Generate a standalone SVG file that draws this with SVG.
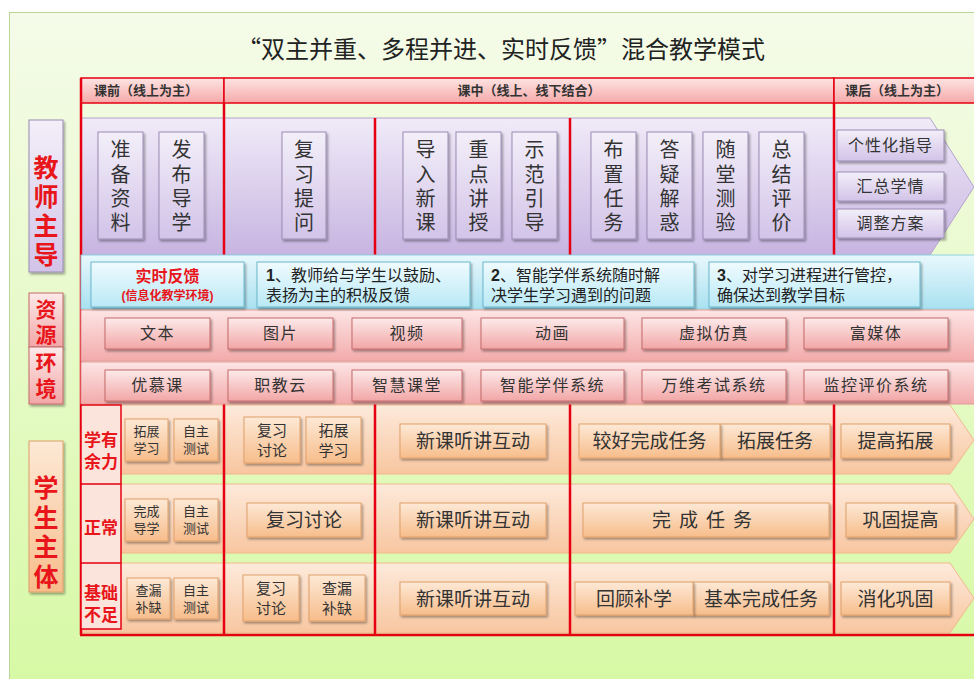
<svg xmlns="http://www.w3.org/2000/svg" width="974" height="679" viewBox="0 0 974 679">
<defs>
<linearGradient id="gBg" x1="0" y1="0" x2="0" y2="1"><stop offset="0" stop-color="#f5fbe9"/><stop offset="1" stop-color="#d7f9a5"/></linearGradient>
<linearGradient id="gHead" x1="0" y1="0" x2="0" y2="1"><stop offset="0" stop-color="#fde4e3"/><stop offset="1" stop-color="#f5a9a8"/></linearGradient>
<linearGradient id="gPur" x1="0" y1="0" x2="0" y2="1"><stop offset="0" stop-color="#f0ebf8"/><stop offset="1" stop-color="#c7b4e1"/></linearGradient>
<linearGradient id="gPurBox" x1="0" y1="0" x2="0" y2="1"><stop offset="0" stop-color="#f3eff9"/><stop offset="1" stop-color="#d2c3e8"/></linearGradient>
<linearGradient id="gCyan" x1="0" y1="0" x2="0" y2="1"><stop offset="0" stop-color="#e8f8fc"/><stop offset="1" stop-color="#a9e1f1"/></linearGradient>
<linearGradient id="gCyanBox" x1="0" y1="0" x2="0" y2="1"><stop offset="0" stop-color="#f0fbfe"/><stop offset="1" stop-color="#b9e9f6"/></linearGradient>
<linearGradient id="gPink" x1="0" y1="0" x2="0" y2="1"><stop offset="0" stop-color="#fde5e5"/><stop offset="1" stop-color="#f3aaaa"/></linearGradient>
<linearGradient id="gPinkBox" x1="0" y1="0" x2="0" y2="1"><stop offset="0" stop-color="#fdeaea"/><stop offset="1" stop-color="#f2a6a6"/></linearGradient>
<linearGradient id="gOr" x1="0" y1="0" x2="0" y2="1"><stop offset="0" stop-color="#fdeadb"/><stop offset="1" stop-color="#f8c6a0"/></linearGradient>
<linearGradient id="gOrBox" x1="0" y1="0" x2="0" y2="1"><stop offset="0" stop-color="#fde9d6"/><stop offset="1" stop-color="#f7bd8b"/></linearGradient>
<filter id="sh" x="-10%" y="-10%" width="130%" height="140%"><feDropShadow dx="1.5" dy="2" stdDeviation="1.2" flood-color="#000" flood-opacity="0.35"/></filter>
</defs>
<style>
text{font-family:"Liberation Sans","Noto Sans CJK SC",sans-serif;}
.title{font-size:24px;fill:#222;font-family:"Noto Sans CJK SC",sans-serif;}
.head{font-size:13px;font-weight:bold;fill:#333;}
.vt{font-size:20px;fill:#333;text-anchor:middle;}
.rt{font-size:16px;fill:#333;text-anchor:middle;letter-spacing:1px;}
.fb{font-size:16px;fill:#222;}
.res{font-size:16px;fill:#333;text-anchor:middle;letter-spacing:1.5px;}
.sm{font-size:13px;fill:#333;text-anchor:middle;}
.md{font-size:15px;fill:#333;text-anchor:middle;}
.lg{font-size:19px;fill:#333;text-anchor:middle;}
.lbl{font-size:25px;font-weight:bold;fill:#e8161b;text-anchor:middle;}
.lbl2{font-size:21px;font-weight:bold;fill:#e8161b;text-anchor:middle;}
.slbl{font-size:17px;font-weight:bold;fill:#e8161b;text-anchor:middle;}
.pbox{fill:url(#gPurBox);stroke:#9b8cb3;stroke-width:1;filter:url(#sh);}
.cbox{fill:url(#gCyanBox);stroke:#6bb7cc;stroke-width:1;filter:url(#sh);}
.kbox{fill:url(#gPinkBox);stroke:#c46a6a;stroke-width:1;filter:url(#sh);}
.obox{fill:url(#gOrBox);stroke:#e0a06a;stroke-width:1;filter:url(#sh);}
.red{stroke:#e60012;stroke-width:2.5;fill:none;}
</style>

<rect x="0" y="0" width="974" height="679" fill="#ffffff"/>
<rect x="9.5" y="12.5" width="970" height="670" fill="url(#gBg)" stroke="#b9d69a" stroke-width="1"/>
<text class="title" x="501" y="58" text-anchor="middle">“双主并重、多程并进、实时反馈”混合教学模式</text>

<g id="header">
<rect x="81" y="78" width="143" height="25" fill="url(#gHead)" stroke="#e60012" stroke-width="1.5"/>
<rect x="224" y="78" width="610" height="25" fill="url(#gHead)" stroke="#e60012" stroke-width="1.5"/>
<rect x="834" y="78" width="145" height="25" fill="url(#gHead)" stroke="#e60012" stroke-width="1.5"/>
<text class="head" x="94" y="95">课前（线上为主）</text>
<text class="head" x="529" y="95" text-anchor="middle">课中（线上、线下结合）</text>
<text class="head" x="845" y="95">课后（线上为主）</text>
</g>

<g id="teacher-band">
<path d="M81,118 H930 L974,187 L930,255 H81 Z" fill="url(#gPur)" stroke="#b4a3cf" stroke-width="1"/>
</g>

<g id="student-bands">
<path d="M81,405 H950 L974,440 L950,474 H81 Z" fill="url(#gOr)" stroke="#f0b88c" stroke-width="1"/>
<path d="M81,484 H950 L974,519 L950,553 H81 Z" fill="url(#gOr)" stroke="#f0b88c" stroke-width="1"/>
<path d="M81,563 H950 L974,598 L950,633 H81 Z" fill="url(#gOr)" stroke="#f0b88c" stroke-width="1"/>
</g>

<g id="connectors">
<line class="red" x1="81" y1="78" x2="81" y2="635"/>
<line class="red" x1="224" y1="103" x2="224" y2="255"/>
<line class="red" x1="375" y1="118" x2="375" y2="255"/>
<line class="red" x1="570" y1="118" x2="570" y2="255"/>
<line class="red" x1="834" y1="103" x2="834" y2="255"/>
<line class="red" x1="224" y1="404" x2="224" y2="635"/>
<line class="red" x1="375" y1="404" x2="375" y2="635"/>
<line class="red" x1="570" y1="404" x2="570" y2="635"/>
<line class="red" x1="834" y1="404" x2="834" y2="635"/>
<line class="red" x1="80" y1="635" x2="974" y2="635"/>
</g>

<g id="feedback-band">
<rect x="81" y="255" width="898" height="54" fill="url(#gCyan)" stroke="#8fcfe0" stroke-width="1"/>
</g>
<g id="resource-bands">
<rect x="81" y="310" width="898" height="51" fill="url(#gPink)" stroke="#e39a9a" stroke-width="1"/>
<rect x="81" y="362" width="898" height="42" fill="url(#gPink)" stroke="#e39a9a" stroke-width="1"/>
</g>

<g id="label-teacher">
<rect x="29" y="120" width="34" height="152" fill="url(#gPurBox)" stroke="#9b8cb3" filter="url(#sh)"/>
<text class="lbl" x="46" y="177">教</text>
<text class="lbl" x="46" y="206">师</text>
<text class="lbl" x="46" y="235">主</text>
<text class="lbl" x="46" y="264">导</text>
</g>
<g id="label-resource">
<rect x="29" y="293" width="34" height="54" fill="url(#gPinkBox)" stroke="#c46a6a" filter="url(#sh)"/>
<rect x="29" y="347" width="34" height="57" fill="url(#gPinkBox)" stroke="#c46a6a" filter="url(#sh)"/>
<text class="lbl2" x="46" y="317">资</text>
<text class="lbl2" x="46" y="342">源</text>
<text class="lbl2" x="46" y="370">环</text>
<text class="lbl2" x="46" y="396">境</text>
</g>
<g id="label-student">
<rect x="29" y="441" width="34" height="151" fill="url(#gOrBox)" stroke="#e0a06a" filter="url(#sh)"/>
<text class="lbl" x="46" y="497">学</text>
<text class="lbl" x="46" y="527">生</text>
<text class="lbl" x="46" y="556">主</text>
<text class="lbl" x="46" y="586">体</text>
</g>

<g id="teacher-prep">
<rect class="pbox" x="98" y="132" width="45" height="107"/>
<text class="vt" x="120.5" y="157">准</text><text class="vt" x="120.5" y="182">备</text><text class="vt" x="120.5" y="206">资</text><text class="vt" x="120.5" y="230">料</text>
<rect class="pbox" x="159" y="132" width="45" height="107"/>
<text class="vt" x="181.5" y="157">发</text><text class="vt" x="181.5" y="182">布</text><text class="vt" x="181.5" y="206">导</text><text class="vt" x="181.5" y="230">学</text>
</g>
<g id="teacher-review">
<rect class="pbox" x="282" y="132" width="44" height="107"/>
<text class="vt" x="304" y="157">复</text><text class="vt" x="304" y="182">习</text><text class="vt" x="304" y="206">提</text><text class="vt" x="304" y="230">问</text>
</g>
<g id="teacher-teach">
<rect class="pbox" x="403" y="132" width="45" height="107"/>
<text class="vt" x="425.5" y="157">导</text><text class="vt" x="425.5" y="182">入</text><text class="vt" x="425.5" y="206">新</text><text class="vt" x="425.5" y="230">课</text>
<rect class="pbox" x="456" y="132" width="45" height="107"/>
<text class="vt" x="478.5" y="157">重</text><text class="vt" x="478.5" y="182">点</text><text class="vt" x="478.5" y="206">讲</text><text class="vt" x="478.5" y="230">授</text>
<rect class="pbox" x="512" y="132" width="45" height="107"/>
<text class="vt" x="534.5" y="157">示</text><text class="vt" x="534.5" y="182">范</text><text class="vt" x="534.5" y="206">引</text><text class="vt" x="534.5" y="230">导</text>
</g>
<g id="teacher-task">
<rect class="pbox" x="591" y="132" width="45" height="107"/>
<text class="vt" x="613.5" y="157">布</text><text class="vt" x="613.5" y="182">置</text><text class="vt" x="613.5" y="206">任</text><text class="vt" x="613.5" y="230">务</text>
<rect class="pbox" x="647" y="132" width="45" height="107"/>
<text class="vt" x="669.5" y="157">答</text><text class="vt" x="669.5" y="182">疑</text><text class="vt" x="669.5" y="206">解</text><text class="vt" x="669.5" y="230">惑</text>
<rect class="pbox" x="703" y="132" width="45" height="107"/>
<text class="vt" x="725.5" y="157">随</text><text class="vt" x="725.5" y="182">堂</text><text class="vt" x="725.5" y="206">测</text><text class="vt" x="725.5" y="230">验</text>
<rect class="pbox" x="759" y="132" width="45" height="107"/>
<text class="vt" x="781.5" y="157">总</text><text class="vt" x="781.5" y="182">结</text><text class="vt" x="781.5" y="206">评</text><text class="vt" x="781.5" y="230">价</text>
</g>
<g id="teacher-after">
<rect class="pbox" x="837" y="130" width="107" height="31"/>
<text class="rt" x="890.5" y="151">个性化指导</text>
<rect class="pbox" x="837" y="172" width="107" height="29"/>
<text class="rt" x="890.5" y="192">汇总学情</text>
<rect class="pbox" x="837" y="209" width="107" height="29"/>
<text class="rt" x="890.5" y="229">调整方案</text>
</g>

<g id="feedback">
<rect class="cbox" x="91" y="262" width="153" height="45"/>
<text x="167.5" y="282" text-anchor="middle" font-size="16" font-weight="bold" fill="#e8161b">实时反馈</text>
<text x="167.5" y="300" text-anchor="middle" font-size="12" font-weight="bold" fill="#e8161b">(信息化教学环境)</text>
<rect class="cbox" x="257" y="262" width="213" height="45"/>
<text class="fb" x="266" y="281"><tspan font-weight="bold">1</tspan>、教师给与学生以鼓励、</text>
<text class="fb" x="266" y="301">表扬为主的积极反馈</text>
<rect class="cbox" x="483" y="262" width="211" height="45"/>
<text class="fb" x="491" y="281"><tspan font-weight="bold">2</tspan>、智能学伴系统随时解</text>
<text class="fb" x="491" y="301">决学生学习遇到的问题</text>
<rect class="cbox" x="709" y="262" width="211" height="45"/>
<text class="fb" x="717" y="281"><tspan font-weight="bold">3</tspan>、对学习进程进行管控，</text>
<text class="fb" x="717" y="301">确保达到教学目标</text>
</g>

<g id="resources">
<rect class="kbox" x="105" y="318" width="105" height="31"/><text class="res" x="157.5" y="339">文本</text>
<rect class="kbox" x="228" y="318" width="105" height="31"/><text class="res" x="280.5" y="339">图片</text>
<rect class="kbox" x="352" y="318" width="110" height="31"/><text class="res" x="407" y="339">视频</text>
<rect class="kbox" x="481" y="318" width="143" height="31"/><text class="res" x="552.5" y="339">动画</text>
<rect class="kbox" x="642" y="318" width="144" height="31"/><text class="res" x="714" y="339">虚拟仿真</text>
<rect class="kbox" x="804" y="318" width="144" height="31"/><text class="res" x="876" y="339">富媒体</text>
<rect class="kbox" x="105" y="370" width="105" height="31"/><text class="res" x="157.5" y="391">优慕课</text>
<rect class="kbox" x="228" y="370" width="105" height="31"/><text class="res" x="280.5" y="391">职教云</text>
<rect class="kbox" x="352" y="370" width="110" height="31"/><text class="res" x="407" y="391">智慧课堂</text>
<rect class="kbox" x="481" y="370" width="143" height="31"/><text class="res" x="552.5" y="391">智能学伴系统</text>
<rect class="kbox" x="642" y="370" width="144" height="31"/><text class="res" x="714" y="391">万维考试系统</text>
<rect class="kbox" x="804" y="370" width="144" height="31"/><text class="res" x="876" y="391">监控评价系统</text>
</g>

<g id="student-levels">
<rect x="81" y="405" width="40" height="224" fill="#fbe4dc" stroke="#e60012" stroke-width="1.5"/>
<line x1="81" y1="484" x2="121" y2="484" stroke="#e60012" stroke-width="1.5"/>
<line x1="81" y1="563" x2="121" y2="563" stroke="#e60012" stroke-width="1.5"/>
<text class="slbl" x="101" y="446">学有</text>
<text class="slbl" x="101" y="468">余力</text>
<text class="slbl" x="101" y="534">正常</text>
<text class="slbl" x="101" y="599">基础</text>
<text class="slbl" x="101" y="621">不足</text>
</g>

<g id="student-pre">
<rect class="obox" x="125" y="419" width="43" height="42"/><text class="sm" x="146.5" y="436">拓展</text><text class="sm" x="146.5" y="453">学习</text>
<rect class="obox" x="174" y="419" width="44" height="42"/><text class="sm" x="196" y="436">自主</text><text class="sm" x="196" y="453">测试</text>
<rect class="obox" x="125" y="499" width="43" height="42"/><text class="sm" x="146.5" y="516">完成</text><text class="sm" x="146.5" y="533">导学</text>
<rect class="obox" x="174" y="499" width="44" height="42"/><text class="sm" x="196" y="516">自主</text><text class="sm" x="196" y="533">测试</text>
<rect class="obox" x="127" y="578" width="43" height="41"/><text class="sm" x="148.5" y="595">查漏</text><text class="sm" x="148.5" y="612">补缺</text>
<rect class="obox" x="174" y="578" width="44" height="41"/><text class="sm" x="196" y="595">自主</text><text class="sm" x="196" y="612">测试</text>
</g>

<g id="student-review">
<rect class="obox" x="244" y="417" width="56" height="46"/><text class="md" x="272" y="436">复习</text><text class="md" x="272" y="456">讨论</text>
<rect class="obox" x="306" y="417" width="55" height="46"/><text class="md" x="333.5" y="436">拓展</text><text class="md" x="333.5" y="456">学习</text>
<rect class="obox" x="247" y="503" width="114" height="34"/><text class="lg" x="304" y="527">复习讨论</text>
<rect class="obox" x="243" y="575" width="56" height="46"/><text class="md" x="271" y="594">复习</text><text class="md" x="271" y="614">讨论</text>
<rect class="obox" x="309" y="575" width="56" height="46"/><text class="md" x="337" y="594">查漏</text><text class="md" x="337" y="614">补缺</text>
</g>

<g id="student-new">
<rect class="obox" x="400" y="424" width="146" height="34"/><text class="lg" x="473" y="448">新课听讲互动</text>
<rect class="obox" x="400" y="503" width="146" height="34"/><text class="lg" x="473" y="527">新课听讲互动</text>
<rect class="obox" x="400" y="582" width="146" height="33"/><text class="lg" x="473" y="606">新课听讲互动</text>
</g>

<g id="student-task">
<rect class="obox" x="720" y="424" width="110" height="34"/><text class="lg" x="775" y="448">拓展任务</text>
<rect class="obox" x="579" y="424" width="141" height="34"/><text class="lg" x="649.5" y="448">较好完成任务</text>
<rect class="obox" x="583" y="503" width="246" height="34"/><text class="lg" x="706" y="527" letter-spacing="8">完成任务</text>
<rect class="obox" x="693" y="582" width="136" height="33"/><text class="lg" x="761" y="606">基本完成任务</text>
<rect class="obox" x="575" y="582" width="118" height="33"/><text class="lg" x="634" y="606">回顾补学</text>
</g>

<g id="student-after">
<rect class="obox" x="841" y="424" width="109" height="34"/><text class="lg" x="895.5" y="448">提高拓展</text>
<rect class="obox" x="846" y="503" width="109" height="34"/><text class="lg" x="900.5" y="527">巩固提高</text>
<rect class="obox" x="841" y="582" width="109" height="33"/><text class="lg" x="895.5" y="606">消化巩固</text>
</g>
</svg>
